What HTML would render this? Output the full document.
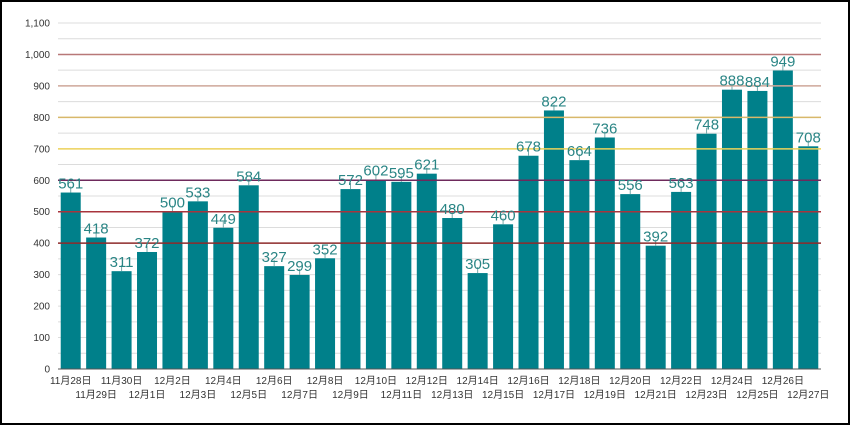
<!DOCTYPE html>
<html><head><meta charset="utf-8"><style>
html,body{margin:0;padding:0;background:#fff}
svg{display:block;font-family:"Liberation Sans","Noto Sans CJK JP",sans-serif}
</style></head><body>
<svg id="chart" width="850" height="425" viewBox="0 0 850 425" xmlns="http://www.w3.org/2000/svg">
<rect x="1" y="1" width="848" height="423" fill="#fff" stroke="#000" stroke-width="2"/>
<g id="grid"></g><g id="bars"></g><g id="lines"></g><g id="labels"></g><g id="yticks"></g><g id="xticks"></g>
</svg>
<script>
const categories=["11月28日","11月29日","11月30日","12月1日","12月2日","12月3日","12月4日","12月5日","12月6日","12月7日","12月8日","12月9日","12月10日","12月11日","12月12日","12月13日","12月14日","12月15日","12月16日","12月17日","12月18日","12月19日","12月20日","12月21日","12月22日","12月23日","12月24日","12月25日","12月26日","12月27日"];
const values=[561,418,311,372,500,533,449,584,327,299,352,572,602,595,621,480,305,460,678,822,664,736,556,392,563,748,888,884,949,708];
const yTicks=[0,100,200,300,400,500,600,700,800,900,1000,1100];
const yTickLabels=["0","100","200","300","400","500","600","700","800","900","1,000","1,100"];
const refLevels=[400,500,600,700,800,900,1000];
const refColors=["#8e2a2a","#a8343c","#6e2a5c","#ecd25a","#d8b86a","#cfa89a","#b87878"];
const NS="http://www.w3.org/2000/svg";
const X0=58,X1=821,Y0=369,Y1=23,MAX=1100;
const step=(X1-X0)/categories.length;
const y=v=>Y0-(v/MAX)*(Y0-Y1);
const xc=i=>X0+step*(i+0.5);
function mk(tag,attrs,parent,text){const e=document.createElementNS(NS,tag);for(const k in attrs)e.setAttribute(k,attrs[k]);if(text!==undefined)e.textContent=text;document.getElementById(parent).appendChild(e);return e;}
for(let v=0;v<=MAX;v+=50){
  const e=mk("line",{x1:X0,x2:X1,y1:y(v),y2:y(v),stroke:"#dcdcdc","stroke-width":1},"grid");
  
  
}
yTicks.forEach((t,i)=>{
  const e=mk("text",{x:50,y:y(t)+3.5,"text-anchor":"end","font-size":10,fill:"#333"},"yticks",yTickLabels[i]);
  
  
});
const bw=20;
values.forEach((v,i)=>{
  const r=mk("rect",{x:xc(i)-bw/2,y:y(v),width:bw,height:Y0-y(v),fill:"#00808a"},"bars");
  
  
  const w=mk("line",{x1:xc(i),x2:xc(i),y1:y(v)-6,y2:y(v),stroke:"#7aa","stroke-width":1},"bars");
  
  
  const l=mk("text",{x:xc(i),y:y(v)-4,"text-anchor":"middle","font-size":15,fill:"#2a8585"},"labels",String(v));
  
  
  const t=mk("text",{x:xc(i),y:(i%2===0)?384:398,"text-anchor":"middle","font-size":10,fill:"#333"},"xticks",categories[i]);
  
  
});
refLevels.forEach((v,i)=>{
  const e=mk("line",{x1:X0,x2:X1,y1:y(v),y2:y(v),stroke:refColors[i],"stroke-width":1.5},"lines");
  
  
});
const ax=mk("line",{x1:X0,x2:X1,y1:Y0,y2:Y0,stroke:"#555","stroke-width":1},"lines");


</script>
</body></html>
